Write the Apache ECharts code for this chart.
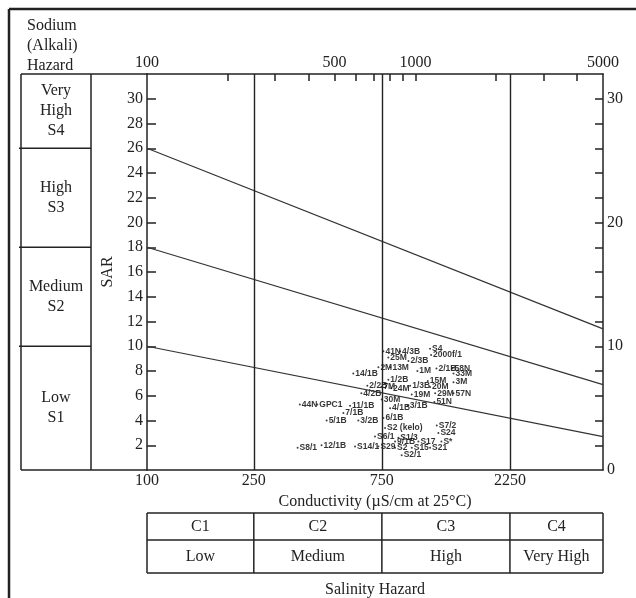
<!DOCTYPE html>
<html><head><meta charset="utf-8">
<script src="https://cdn.jsdelivr.net/npm/echarts@6/dist/echarts.min.js"></script>
<style>html,body{margin:0;padding:0;background:#fff}#c{width:636px;height:598px}</style>
</head><body><div id="c"></div>
<script>
// ---- data ----
const sampleNames = ['41N','4/3B','S4','25M','2/3B','2000f/1','2M','13M','1M','2/1B','58N','33M','1/2B','15M','3M','2/2B','7M','24M','1/3B','20M','4/2B','19M','29M','57N','30M','51N','4/1B','3/1B','14/1B','44N','GPC1','11/1B','7/1B','5/1B','3/2B','6/1B','S8/1','12/1B','S14/1','S6/1','S2 (kelo)','S7/2','S24','S1/3','9/1B','S17','S*','S29','S2','S15','S21','S2/1'];
const sampleEC = [760,877,1134,793,942,1144,728,807,1017,1198,1375,1387,793,1112,1387,662,747,812,956,1134,629,969,1185,1387,749,1177,805,936,587,371,431,571,539,467,613,760,364,447,596,707,771,1201,1218,864,840,1026,1250,728,840,969,1134,889];
const sampleSAR = [9.6,9.6,9.8,9.1,8.8,9.3,8.3,8.3,8.0,8.2,8.2,7.8,7.3,7.2,7.1,6.8,6.7,6.6,6.8,6.7,6.2,6.1,6.2,6.2,5.7,5.5,5.0,5.2,7.8,5.3,5.3,5.2,4.6,4.0,4.0,4.2,1.8,2.0,1.9,2.7,3.4,3.6,3.0,2.6,2.3,2.3,2.3,1.9,1.8,1.8,1.8,1.2];

const bottomTickLabels = [100, 250, 750, 2250];
const topTickLabels = [100, 500, 1000, 5000];
const topMinorTicks = [200,300,400,500,600,700,800,900,1000,2000,3000,4000];
const leftSarLabels = [2,4,6,8,10,12,14,16,18,20,22,24,26,28,30];
const rightSarLabels = [0,10,20,30];
const rightSarTicks = [2,4,6,8,10,12,14,16,18,20,22,24,26,28,30];

const boundaryEC = [100, 5000];
const boundaryS1S2 = [10, 2.7];
const boundaryS2S3 = [18, 6.9];
const boundaryS3S4 = [26, 11.4];
const salinityBounds = [250, 750, 2250];
const ecRange = [100, 5000];
const sarRange = [0, 32];
const salinityClasses = ['C1','C2','C3','C4'];
const salinityNames = ['Low','Medium','High','Very High'];
const sodiumClasses = ['Very\nHigh\nS4','High\nS3','Medium\nS2','Low\nS1'];
const sodiumBounds = [26, 18, 10];

// ---- chart ----
const SERIF = '"Liberation Serif", "DejaVu Serif", serif';
const INK = '#222';
const chart = echarts.init(document.getElementById('c'), null, {renderer: 'canvas'});

const mkAxisLine = () => ({show: true, onZero: false, lineStyle: {color: INK, width: 1.5}});
const plain = v => String(v);
const serifLabel = {fontFamily: SERIF, fontSize: 16, color: INK};

const option = {
  animation: false,
  backgroundColor: '#fff',
  grid: {left: 147, top: 74, width: 456, height: 396, containLabel: false},
  xAxis: [
    {
      type: 'log', logBase: 10, min: ecRange[0], max: ecRange[1], position: 'bottom',
      axisLine: mkAxisLine(), splitLine: {show: false}, minorTick: {show: false}, axisTick: {show: false},
      axisLabel: Object.assign({customValues: bottomTickLabels, margin: 3, formatter: plain}, serifLabel),
      name: 'Conductivity (\u00B5S/cm at 25\u00B0C)', nameLocation: 'middle', nameGap: 19,
      nameTextStyle: serifLabel
    },
    {
      type: 'log', logBase: 10, min: ecRange[0], max: ecRange[1], position: 'top',
      axisLine: mkAxisLine(), splitLine: {show: false}, minorTick: {show: false},
      axisTick: {show: true, inside: true, length: 7, customValues: topMinorTicks, lineStyle: {color: INK, width: 1.5}},
      axisLabel: Object.assign({customValues: topTickLabels, margin: 3, formatter: plain}, serifLabel)
    }
  ],
  yAxis: [
    {
      type: 'value', min: sarRange[0], max: sarRange[1], position: 'left',
      axisLine: mkAxisLine(), splitLine: {show: false},
      axisTick: {show: true, inside: true, length: 9, customValues: leftSarLabels, lineStyle: {color: INK, width: 1.5}},
      axisLabel: Object.assign({customValues: leftSarLabels, margin: 4, formatter: plain}, serifLabel),
      name: 'SAR', nameLocation: 'middle', nameGap: 28, nameRotate: 90,
      nameTextStyle: serifLabel
    },
    {
      type: 'value', min: sarRange[0], max: sarRange[1], position: 'right',
      axisLine: mkAxisLine(), splitLine: {show: false},
      axisTick: {show: true, inside: true, length: 8, customValues: rightSarTicks, lineStyle: {color: INK, width: 1.5}},
      axisLabel: Object.assign({customValues: rightSarLabels, margin: 4, formatter: plain}, serifLabel)
    }
  ],
  series: [
    {
      type: 'line', xAxisIndex: 0, yAxisIndex: 0, silent: true, symbol: 'none',
      lineStyle: {color: '#333', width: 1.2},
      data: boundaryEC.map((c, i) => [c, boundaryS1S2[i]]),
      markLine: {
        silent: true, symbol: 'none', label: {show: false},
        lineStyle: {color: INK, width: 1.4, type: 'solid'},
        data: salinityBounds.map(v => ({xAxis: v}))
      }
    },
    {
      type: 'line', xAxisIndex: 0, yAxisIndex: 0, silent: true, symbol: 'none',
      lineStyle: {color: '#333', width: 1.2},
      data: boundaryEC.map((c, i) => [c, boundaryS2S3[i]])
    },
    {
      type: 'line', xAxisIndex: 0, yAxisIndex: 0, silent: true, symbol: 'none',
      lineStyle: {color: '#333', width: 1.2},
      data: boundaryEC.map((c, i) => [c, boundaryS3S4[i]])
    },
    {
      type: 'scatter', xAxisIndex: 0, yAxisIndex: 0, symbolSize: 2,
      itemStyle: {color: '#111'},
      label: {
        show: true, position: 'right', distance: 1, formatter: '{b}',
        fontFamily: '"Liberation Sans", Arial, sans-serif', fontSize: 8.5, fontWeight: 'bold', color: '#000'
      },
      labelLayout: {hideOverlap: false},
      data: sampleNames.map((n, i) => ({name: n, value: [sampleEC[i], sampleSAR[i]]}))
    }
  ]
};
chart.setOption(option);

// ---- decoration tables positioned from the axes ----
const px = v => chart.convertToPixel({xAxisIndex: 0}, v);
const py = v => chart.convertToPixel({yAxisIndex: 0}, v);
const els = [];
const line = (x1, y1, x2, y2, w) => els.push({type: 'line', silent: true, shape: {x1, y1, x2, y2}, style: {stroke: INK, lineWidth: w || 1.5}});
const text = (t, x, y, opts) => els.push({type: 'text', silent: true, style: Object.assign({text: t, x, y, align: 'center', verticalAlign: 'middle', font: '16px ' + SERIF, fill: INK, lineHeight: 20}, opts || {})});

// outer frame
line(9, 9, 636, 9, 2.5);
line(9, 9, 9, 598, 2.5);

// sodium hazard table
const tL = 21, tR = 91;
const yTop = py(sarRange[1]), yBot = py(sarRange[0]);
const gL = px(ecRange[0]);
line(tL, yTop, gL, yTop);
line(tL, yBot, gL, yBot);
line(tL, yTop, tL, yBot);
line(tR, yTop, tR, yBot);
const rowEdges = [yTop].concat(sodiumBounds.map(py)).concat([yBot]);
sodiumBounds.forEach(b => line(tL - 2, py(b), tR, py(b)));
sodiumClasses.forEach((s, i) => text(s, (tL + tR) / 2, (rowEdges[i] + rowEdges[i + 1]) / 2));
text('Sodium\n(Alkali)\nHazard', 27, 16, {align: 'left', verticalAlign: 'top'});

// salinity hazard table
const colEdges = [ecRange[0]].concat(salinityBounds).concat([ecRange[1]]).map(px);
const r0 = 513, r1 = 540, r2 = 573;
line(colEdges[0], r0, colEdges[4], r0);
line(colEdges[0], r1, colEdges[4], r1);
line(colEdges[0], r2, colEdges[4], r2);
colEdges.forEach(x => line(x, r0, x, r2));
salinityClasses.forEach((c, i) => {
  const cx = (colEdges[i] + colEdges[i + 1]) / 2;
  text(c, cx, (r0 + r1) / 2);
  text(salinityNames[i], cx, (r1 + r2) / 2);
});
text('Salinity Hazard', (colEdges[0] + colEdges[4]) / 2, 590);

chart.setOption({graphic: {elements: els}});
</script>
</body></html>
